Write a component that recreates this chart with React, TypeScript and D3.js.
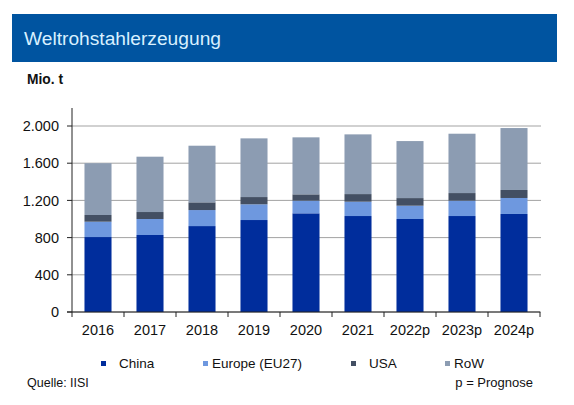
import * as d3 from 'd3';

const W = 574;
const H = 405;

const years = ['2016', '2017', '2018', '2019', '2020', '2021', '2022p', '2023p', '2024p'];
const china = [806, 828, 924, 989, 1061, 1032, 1000, 1032, 1054];
const europe = [165, 172, 172, 169, 136, 154, 143, 165, 172];
const usa = [72, 75, 83, 78, 68, 82, 82, 82, 86];
const row = [557, 595, 609, 631, 613, 642, 613, 638, 666];

const seriesNames = ['China', 'Europe (EU27)', 'USA', 'RoW'];
const seriesColors = ['#002d9c', '#6e98df', '#434f63', '#8c9cb2'];
const yTicks = [0, 400, 800, 1200, 1600, 2000];

const FONT = 'Arial, "Liberation Sans", sans-serif';

// plot box
const PL = 72;
const PR = 540;
const PT = 126;
const PB = 312;

export default function App() {
  const x = d3.scaleBand<string>().domain(years).range([PL, PR]).paddingInner(0.48).paddingOuter(0.24);
  const band = (PR - PL) / years.length;
  const y = d3.scaleLinear().domain([0, 2000]).range([PB, PT]);

  const rows = years.map((yr, i) => ({ yr, China: china[i], Europe: europe[i], USA: usa[i], RoW: row[i] }));
  const stack = d3.stack<any>().keys(['China', 'Europe', 'USA', 'RoW'])(rows);

  const fmt = (v: number) => d3.format(',')(v).replace(/,/g, '.');

  const legendX = [101, 203, 351, 445];
  const legendTextX = [119, 212, 369, 454];

  return (
    <svg
      width={W}
      height={H}
      style={{ position: 'absolute', left: 0, top: 0, background: '#fff' }}
      fontFamily={FONT}
    >
      {/* header */}
      <rect x={12} y={14} width={545} height={48} fill="#0054a0" />
      <text x={24} y={45} fontSize={19.2} fill="#d8f0ff">
        Weltrohstahlerzeugung
      </text>
      <text x={27} y={84} fontSize={13.8} fontWeight={700} fill="#111">
        Mio. t
      </text>

      {/* gridlines */}
      {yTicks.map((t) => (
        <line key={'g' + t} x1={PL} x2={PR + 1} y1={y(t)} y2={y(t)} stroke="#a3a3a3" strokeWidth={1} />
      ))}

      {/* bars */}
      {stack.map((s, si) =>
        s.map((d, i) => (
          <rect
            key={si + '-' + i}
            x={x(years[i])}
            width={x.bandwidth()}
            y={y(d[1])}
            height={y(d[0]) - y(d[1])}
            fill={seriesColors[si]}
          />
        )),
      )}

      {/* y axis */}
      <line x1={PL} x2={PL} y1={108} y2={PB} stroke="#222" strokeWidth={1} />
      {yTicks.map((t) => (
        <g key={'t' + t}>
          <line x1={PL - 5} x2={PL} y1={y(t)} y2={y(t)} stroke="#222" />
          <text x={59} y={y(t)} dy="0.36em" textAnchor="end" fontSize={14.5} fill="#111">
            {fmt(t)}
          </text>
        </g>
      ))}

      {/* x axis */}
      <line x1={PL - 5} x2={PR} y1={PB} y2={PB} stroke="#222" strokeWidth={1} />
      {d3.range(years.length + 1).map((i) => (
        <line key={'xt' + i} x1={PL + i * band} x2={PL + i * band} y1={PB} y2={PB + 5} stroke="#222" />
      ))}
      {years.map((yr) => (
        <text
          key={'xl' + yr}
          x={(x(yr) ?? 0) + x.bandwidth() / 2}
          y={335}
          textAnchor="middle"
          fontSize={14.5}
          fill="#111"
        >
          {yr}
        </text>
      ))}

      {/* legend */}
      {seriesNames.map((n, i) => (
        <g key={'lg' + n}>
          <rect x={legendX[i]} y={361} width={5} height={5} fill={seriesColors[i]} />
          <text x={legendTextX[i]} y={368} fontSize={13.5} fill="#111">
            {n}
          </text>
        </g>
      ))}

      <text x={27} y={387} fontSize={12.5} fill="#111">
        Quelle: IISI
      </text>
      <text x={533} y={387} textAnchor="end" fontSize={13} fill="#111">
        p = Prognose
      </text>
    </svg>
  );
}
